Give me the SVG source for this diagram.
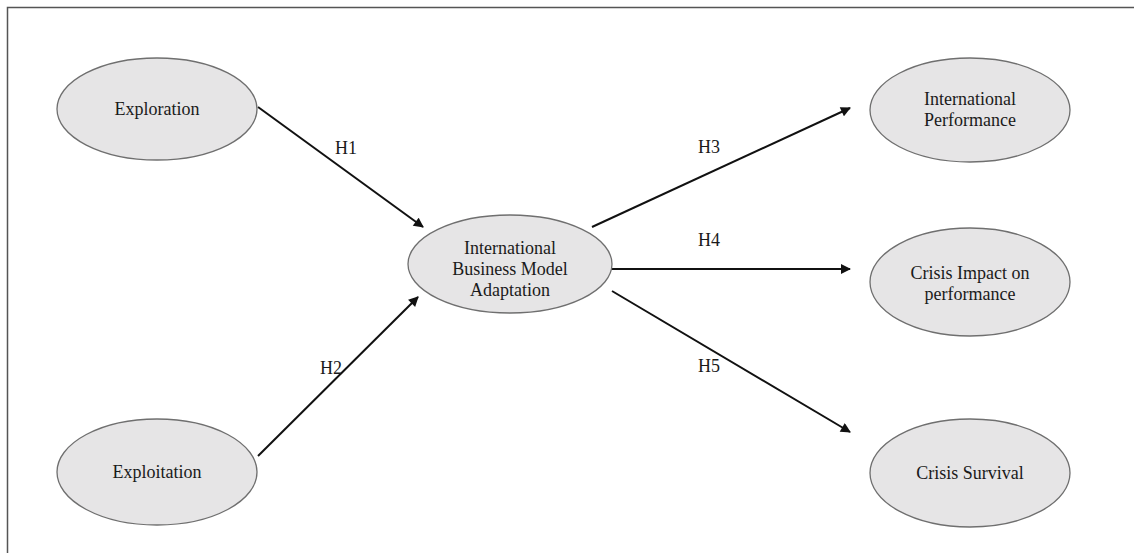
<svg xmlns="http://www.w3.org/2000/svg" width="1134" height="553" viewBox="0 0 1134 553">
<style>
.node ellipse{fill:#e6e5e6;stroke:#6f6f6f;stroke-width:1.3}
text{font-family:"Liberation Serif","Times New Roman",serif;font-size:18px;fill:#1a1a1a;text-anchor:middle}
.conn line{stroke:#111;stroke-width:2;marker-end:url(#ah)}
</style>
<defs>
<marker id="ah" viewBox="0 0 10 10" refX="9" refY="5" markerWidth="5.5" markerHeight="5" orient="auto" markerUnits="strokeWidth">
<path d="M0,0 L10,5 L0,10 z" fill="#111"/>
</marker>
</defs>
<rect width="1134" height="553" fill="#fff"/>
<path d="M7.5,553 L7.5,7.5 L1134,7.5" fill="none" stroke="#555" stroke-width="1.5"/>
<g class="conn">
<line x1="258" y1="107" x2="423" y2="227"/>
<line x1="258" y1="456" x2="418" y2="297"/>
<line x1="592" y1="227" x2="850" y2="108"/>
<line x1="610" y1="269" x2="850" y2="269"/>
<line x1="612" y1="291" x2="850" y2="432"/>
<text x="346" y="154">H1</text>
<text x="331" y="374">H2</text>
<text x="709" y="153">H3</text>
<text x="709" y="246">H4</text>
<text x="709" y="372">H5</text>
</g>
<g id="exploration" class="node"><ellipse cx="157" cy="109" rx="100" ry="51"/><text x="157" y="115">Exploration</text></g>
<g id="exploitation" class="node"><ellipse cx="157" cy="472" rx="100" ry="53"/><text x="157" y="478">Exploitation</text></g>
<g id="ibma" class="node"><ellipse cx="510" cy="264" rx="102" ry="49"/><text x="510" y="254">International</text><text x="510" y="275">Business Model</text><text x="510" y="296">Adaptation</text></g>
<g id="intperf" class="node"><ellipse cx="970" cy="110" rx="100" ry="52"/><text x="970" y="105">International</text><text x="970" y="126">Performance</text></g>
<g id="crisisimpact" class="node"><ellipse cx="970" cy="282" rx="100" ry="54"/><text x="970" y="279">Crisis Impact on</text><text x="970" y="300">performance</text></g>
<g id="crisissurvival" class="node"><ellipse cx="970" cy="473" rx="100" ry="54"/><text x="970" y="479">Crisis Survival</text></g>
</svg>
